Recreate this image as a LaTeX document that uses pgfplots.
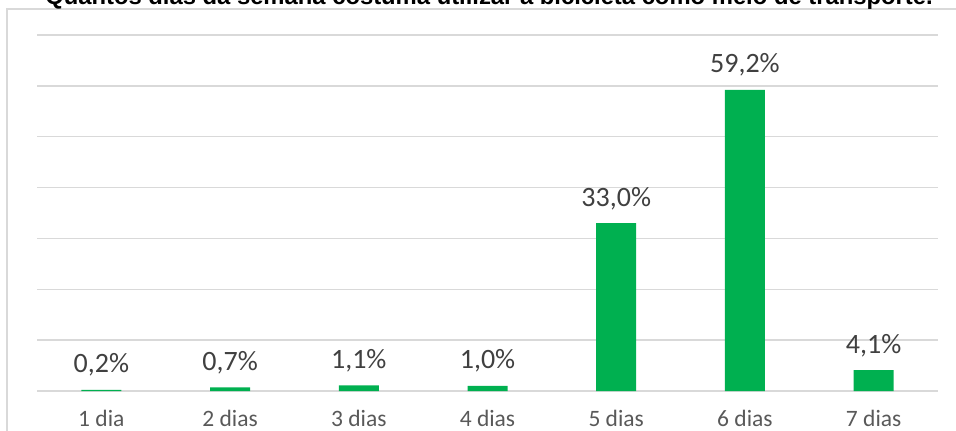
\documentclass[border=0pt]{standalone}
\usepackage{pgfplots}
\pgfplotsset{compat=1.18}
\usepackage{fontspec}
\setmainfont{Carlito}
\newfontfamily\titlefont{Liberation Sans}
\definecolor{bargreen}{HTML}{00B050}
\definecolor{gridgray}{HTML}{D9D9D9}
\definecolor{labelgray}{HTML}{404040}
\definecolor{tickgray}{HTML}{595959}
\begin{document}
\begin{tikzpicture}
    \path[use as bounding box] (0pt,0pt) rectangle (956pt,431pt);
    \clip (0pt,0pt) rectangle (956pt,431pt);
    % chart frame, cropped at right and bottom
    \draw[gridgray, line width=1.3pt] (7pt,-10pt) -- (7pt,422pt) -- (970pt,422pt);
    \node[anchor=base, font=\titlefont\bfseries\fontsize{23.8}{27}\selectfont]
        at (489pt,426pt) {Quantos dias da semana costuma utilizar a bicicleta como meio de transporte.};
    \begin{axis}[
        at={(37pt,40pt)}, anchor=south west,
        width=901pt, height=356pt, scale only axis,
        ybar, bar width=40pt,
        xmin=-0.5, xmax=6.5,
        ymin=0, ymax=70,
        xtick={0,...,6},
        xticklabels={1 dia, 2 dias, 3 dias, 4 dias, 5 dias, 6 dias, 7 dias},
        ytick={0,10,...,70},
        yticklabels={},
        ymajorgrids=true,
        major grid style={gridgray, line width=1.3pt},
        axis line style={draw=none},
        major tick length=0pt,
        /pgf/number format/assume math mode=true,
        x tick label style={font=\fontsize{23.5}{26}\selectfont, text=tickgray, anchor=base, yshift=-35pt},
        nodes near coords={\pgfmathprintnumber[fixed,fixed zerofill,precision=1,use comma,assume math mode=true]{\pgfplotspointmeta}\%},
        nodes near coords style={font=\fontsize{28}{32}\selectfont, text=labelgray, anchor=base, yshift=17pt},
    ]
    \addplot[fill=bargreen, draw=none] coordinates {
        (0, 0.2)
        (1, 0.7)
        (2, 1.1)
        (3, 1.0)
        (4, 33.0)
        (5, 59.2)
        (6, 4.1)
    };
    \end{axis}
\end{tikzpicture}
\end{document}
